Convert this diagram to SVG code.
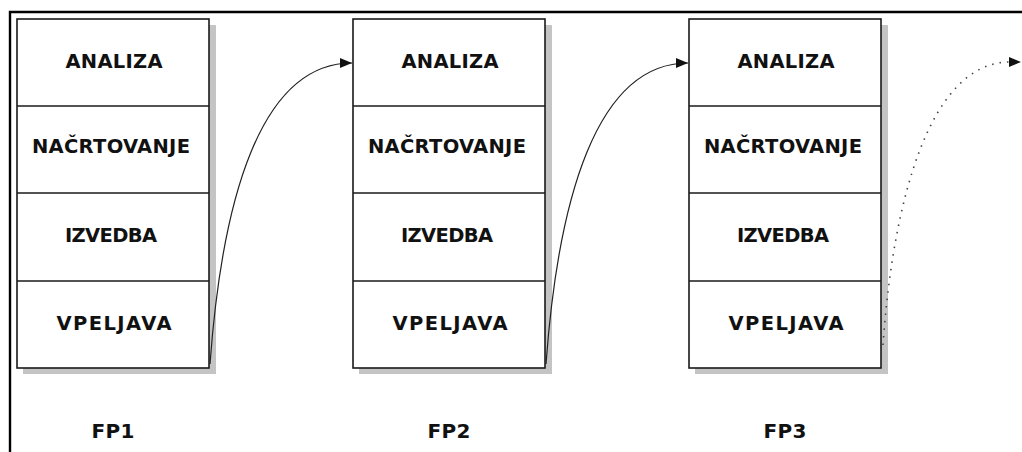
<svg xmlns="http://www.w3.org/2000/svg" width="1022" height="452" viewBox="0 0 1022 452">
<style>
.shadow{fill:#c4c4c4;stroke:none}
.box{fill:#fff;stroke:#1a1a1a;stroke-width:1.6}
.div{stroke:#1a1a1a;stroke-width:1.6}
.lbl{font-family:"DejaVu Sans",Verdana,sans-serif;font-weight:bold;font-size:19.5px;fill:#111;text-anchor:middle}
.fp{font-family:"DejaVu Sans",Verdana,sans-serif;font-weight:bold;font-size:20px;fill:#111;text-anchor:middle}
.conn{fill:none;stroke:#222;stroke-width:1.2}
.dot{fill:none;stroke:#444;stroke-width:1.6;stroke-dasharray:1.5 6}
</style>
<defs>
<marker id="arr" viewBox="0 0 12 10" refX="12" refY="5" markerWidth="12" markerHeight="10" markerUnits="userSpaceOnUse" orient="auto">
<path d="M0,0 L12,5 L0,10 Z" fill="#111"/>
</marker>
</defs>
<rect x="0" y="0" width="1022" height="452" fill="#fff"/>
<path d="M10,460 L10,12 L1030,12" fill="none" stroke="#000" stroke-width="2.4"/>

<g id="fp1">
<rect class="shadow" x="23" y="25" width="193" height="349"/>
<rect class="box" x="17" y="19" width="192" height="349"/>
<line class="div" x1="17" y1="106" x2="209" y2="106"/>
<line class="div" x1="17" y1="193" x2="209" y2="193"/>
<line class="div" x1="17" y1="281" x2="209" y2="281"/>
<text class="lbl" x="114" y="68" textLength="97">ANALIZA</text>
<text class="lbl" x="111" y="153" textLength="158">NAČRTOVANJE</text>
<text class="lbl" x="111" y="242" textLength="92">IZVEDBA</text>
<text class="lbl" x="114" y="330" textLength="115">VPELJAVA</text>
<text class="fp" x="113" y="438" textLength="43">FP1</text>
</g>

<g id="fp2">
<rect class="shadow" x="359" y="25" width="193" height="349"/>
<rect class="box" x="353" y="19" width="192" height="349"/>
<line class="div" x1="353" y1="106" x2="545" y2="106"/>
<line class="div" x1="353" y1="193" x2="545" y2="193"/>
<line class="div" x1="353" y1="281" x2="545" y2="281"/>
<text class="lbl" x="450" y="68" textLength="97">ANALIZA</text>
<text class="lbl" x="447" y="153" textLength="158">NAČRTOVANJE</text>
<text class="lbl" x="447" y="242" textLength="92">IZVEDBA</text>
<text class="lbl" x="450" y="330" textLength="115">VPELJAVA</text>
<text class="fp" x="449" y="438" textLength="43">FP2</text>
</g>

<g id="fp3">
<rect class="shadow" x="695" y="25" width="193" height="349"/>
<rect class="box" x="689" y="19" width="192" height="349"/>
<line class="div" x1="689" y1="106" x2="881" y2="106"/>
<line class="div" x1="689" y1="193" x2="881" y2="193"/>
<line class="div" x1="689" y1="281" x2="881" y2="281"/>
<text class="lbl" x="786" y="68" textLength="97">ANALIZA</text>
<text class="lbl" x="783" y="153" textLength="158">NAČRTOVANJE</text>
<text class="lbl" x="783" y="242" textLength="92">IZVEDBA</text>
<text class="lbl" x="786" y="330" textLength="115">VPELJAVA</text>
<text class="fp" x="785" y="438" textLength="43">FP3</text>
</g>

<g id="connectors">
<path class="conn" d="M210,364 C222,200 260,63 352,63" marker-end="url(#arr)"/>
<path class="conn" d="M546,364 C558,200 596,63 688,63" marker-end="url(#arr)"/>
<path class="dot" d="M883,345 C893,200 930,62 1010,62"/>
<path d="M1009,57 L1021,62 L1009,67 Z" fill="#111"/>
</g>
</svg>
